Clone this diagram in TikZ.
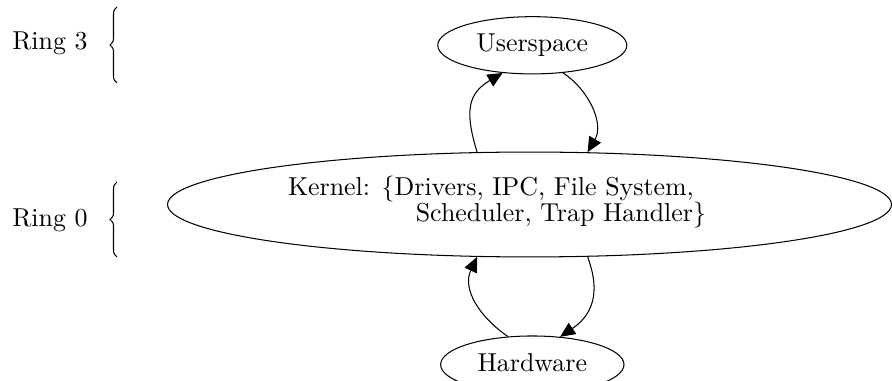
\documentclass[tikz,border=0pt]{standalone}
\usetikzlibrary{shapes.geometric,arrows.meta,decorations.pathreplacing}
\begin{document}
\begin{tikzpicture}[x=0.3861pt,y=-0.3861pt,
  state/.style={draw, ellipse, inner sep=0pt, text height=6.9pt, text depth=1.94pt},
  edge/.style={-{Triangle[length=5.8pt,width=5.2pt]}},
  ringbrace/.style={decorate, decoration={brace, amplitude=2.7pt}},
  ringlabel/.style={anchor=base west, inner sep=0pt},
  textline/.style={anchor=base west, inner sep=0pt}]
\useasboundingbox (0,0) rectangle (892,381);

% privilege levels
\node[ringlabel] (ring3) at (11.9,50) {Ring 3};
\node[ringlabel] (ring0) at (11.9,227) {Ring 0};
\draw[ringbrace] (117,83) -- (117,7);
\draw[ringbrace] (117,257) -- (117,182);

% layers
\node[state, minimum width=73pt, minimum height=22.1pt] (user) at (532.3,45.3) {Userspace};
\node[state, minimum width=279.5pt, minimum height=40.5pt] (kernel) at (529.5,204.5) {};
\node[state, minimum width=70.8pt, minimum height=22.1pt] (hw) at (532.3,364.6) {Hardware};
\node[textline] (kline1) at (287.5,196) {Kernel: \{Drivers, IPC, File System,};
\node[textline] (kline2) at (415.3,222) {Scheduler, Trap Handler\}};

% transitions between layers
\draw[edge] (kernel.135) .. controls +(-13,-42) and +(-34,20) .. (user.223);
\draw[edge] (user.318) .. controls +(25,16) and +(17,-29) .. (kernel.42);
\draw[edge] (kernel.318) .. controls +(11,29) and +(37,-25) .. (hw.45);
\draw[edge] (hw.131) .. controls +(-29,-20) and +(-15,32) .. (kernel.225);
\end{tikzpicture}
\end{document}
